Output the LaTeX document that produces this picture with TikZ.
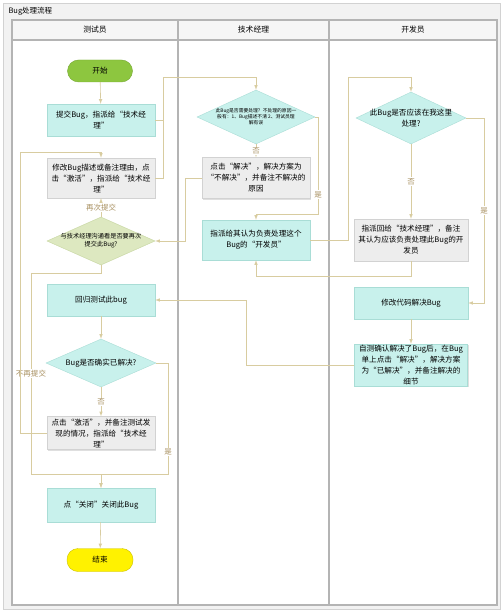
\documentclass[tikz,border=0pt]{standalone}
\usepackage{fontspec}
\setmainfont{Noto Sans CJK SC}
\usetikzlibrary{shapes.geometric,shadows}
\definecolor{cyanbox}{HTML}{C8F1EC}
\definecolor{cyanline}{HTML}{A9DDD6}
\definecolor{graybox}{HTML}{EDEDED}
\definecolor{grayline}{HTML}{D2D2D2}
\definecolor{askbox}{HTML}{DDE8C0}
\definecolor{askline}{HTML}{C5D59E}
\definecolor{startbox}{HTML}{8DC63F}
\definecolor{endbox}{HTML}{FFF200}
\definecolor{linkc}{HTML}{D8CCA0}
\definecolor{lblc}{HTML}{A89060}
\definecolor{lanec}{HTML}{B4B4B4}
\tikzset{
  box/.style={rectangle, draw=cyanline, fill=cyanbox, minimum width=108pt, minimum height=32pt,
    inner sep=1pt, align=center, font=\fontsize{7.6}{11}\selectfont,
    drop shadow={shadow xshift=1pt, shadow yshift=-1.2pt, opacity=.25}},
  notebox/.style={box, draw=grayline, fill=graybox},
  decide/.style={diamond, draw=cyanline, fill=cyanbox, aspect=2.1, inner xsep=-14pt, inner ysep=0pt,
    align=center, font=\fontsize{7.6}{11}\selectfont},
  term/.style={rectangle, rounded corners=11pt, minimum width=65pt, minimum height=22pt,
    font=\fontsize{7.6}{9}\selectfont},
  link/.style={draw=linkc, line width=.6pt, ->},
  lbl/.style={fill=white, text=lblc, inner sep=1pt, font=\fontsize{7.5}{9}\selectfont},
  lane/.style={draw=lanec, line width=1.2pt}
}
\begin{document}
\begin{tikzpicture}[x=1pt, y=-1pt, >=latex]
\useasboundingbox (0,0) rectangle (503,612);

\fill[gray!10] (3,3) rectangle (500,609);
\draw[gray!35] (3,3) rectangle (500,609);
\fill[white] (12,20) rectangle (497,605);
\fill[gray!7] (12,20) rectangle (497,40);
\node[anchor=west, font=\fontsize{7.5}{9}\selectfont] (title) at (5,11) {Bug处理流程};
\foreach \a/\b/\t/\n in {12/178/测试员/1, 178/329/技术经理/2, 329/497/开发员/3}
{
   \draw[lane] (\a,20) rectangle (\b,605);
   \draw[lane] (\a,40) -- (\b,40);
   \node[font=\fontsize{7.8}{9}\selectfont] (lane\n) at ({(\a+\b)/2},30) {\t};
}

% 测试员
\node[term, fill=startbox, draw=startbox!85!black] (start) at (100,71) {开始};
\node[box] (submit) at (101,120) {提交Bug，指派给“技术经\\理”};
\node[notebox, minimum height=40pt] (modify) at (101,178) {修改Bug描述或备注理由，点\\击“激活”，指派给“技术经\\理”};
\node[decide, draw=askline, fill=askbox, minimum width=108pt, minimum height=48pt,
  font=\fontsize{6.2}{8}\selectfont] (ask) at (101,241) {与技术经理沟通看是否要再次\\提交此Bug?};
\node[box] (retest) at (101,300) {回归测试此bug};
\node[decide, minimum width=110pt, minimum height=48pt] (solved) at (101,363) {Bug是否确实已解决?};
\node[notebox, minimum height=33pt] (react) at (101,433) {点击“激活”，并备注测试发\\现的情况，指派给“技术经\\理”};
\node[box, minimum height=34pt] (close) at (101,505) {点“关闭”关闭此Bug};
\node[term, fill=endbox, draw=endbox!80!black, minimum width=66pt, minimum height=23pt] (end) at (100,560) {结束};

% 技术经理
\node[decide, minimum width=118pt, minimum height=54pt, font=\fontsize{4.8}{6}\selectfont] (tmq) at (256,117)
  {此Bug是否需要处理？不处理的原因一\\般有：1、Bug描述不清 2、测试员理\\解有误};
\node[notebox, minimum height=41pt] (reject) at (256,178) {点击“解决”，解决方案为\\“不解决”，并备注不解决的\\原因};
\node[box, minimum height=40pt] (assign) at (256,240) {指派给其认为负责处理这个\\Bug的“开发员”};

% 开发员
\node[decide, minimum width=110pt, minimum height=52pt] (dq) at (411,118) {此Bug是否应该在我这里\\处理?};
\node[notebox, minimum width=114pt, minimum height=42pt] (back) at (411,240) {指派回给“技术经理”，备注\\其认为应该负责处理此Bug的开\\发员};
\node[box, minimum width=114pt] (fix) at (411,303) {修改代码解决Bug};
\node[box, minimum width=113pt, minimum height=41pt] (selftest) at (411,365) {自测确认解决了Bug后，在Bug\\单上点击“解决”，解决方案\\为“已解决”，并备注解决的\\细节};

\draw[link] (start) -- (submit);
\draw[link] (submit.east) -| (163,77) -| (tmq.north);
\draw[link, -] (modify.east) -| (163,120);
\draw[link] (ask) -- node[lbl]{再次提交} (modify);
\draw[link] (ask.south) |- (31,273) -- node[lbl]{不再提交} (31,474) -| (close.north);
\draw[link] (retest) -- (solved);
\draw[link] (solved) -- node[lbl]{否} (react);
\draw[link] (solved.east) -- (168,363) -- node[lbl, pos=.8]{是} (168,474) -| (close.north);
\draw[link] (react.west) -| (20,152) -| (modify.north);
\draw[link] (close) -- (end);

\draw[link] (tmq) -- node[lbl]{否} (reject);
\draw[link] (tmq.east) -- (318,117) -- node[lbl, pos=.8]{是} (318,214) -| (assign.north);
\draw[link] (reject.west) -- (185,178) |- (ask.east);
\draw[link] (assign.east) -| (348,77) -| (dq.north);

\draw[link] (dq) -- node[lbl]{否} (back);
\draw[link] (back.south) -- (411,276) -| (assign.south);
\draw[link] (dq.east) -- (484,118) -- node[lbl]{是} (484,303) -- (fix.east);
\draw[link] (fix) -- (selftest);
\draw[link] (selftest.west) -| (246,300) -- (retest.east);
\end{tikzpicture}
\end{document}
